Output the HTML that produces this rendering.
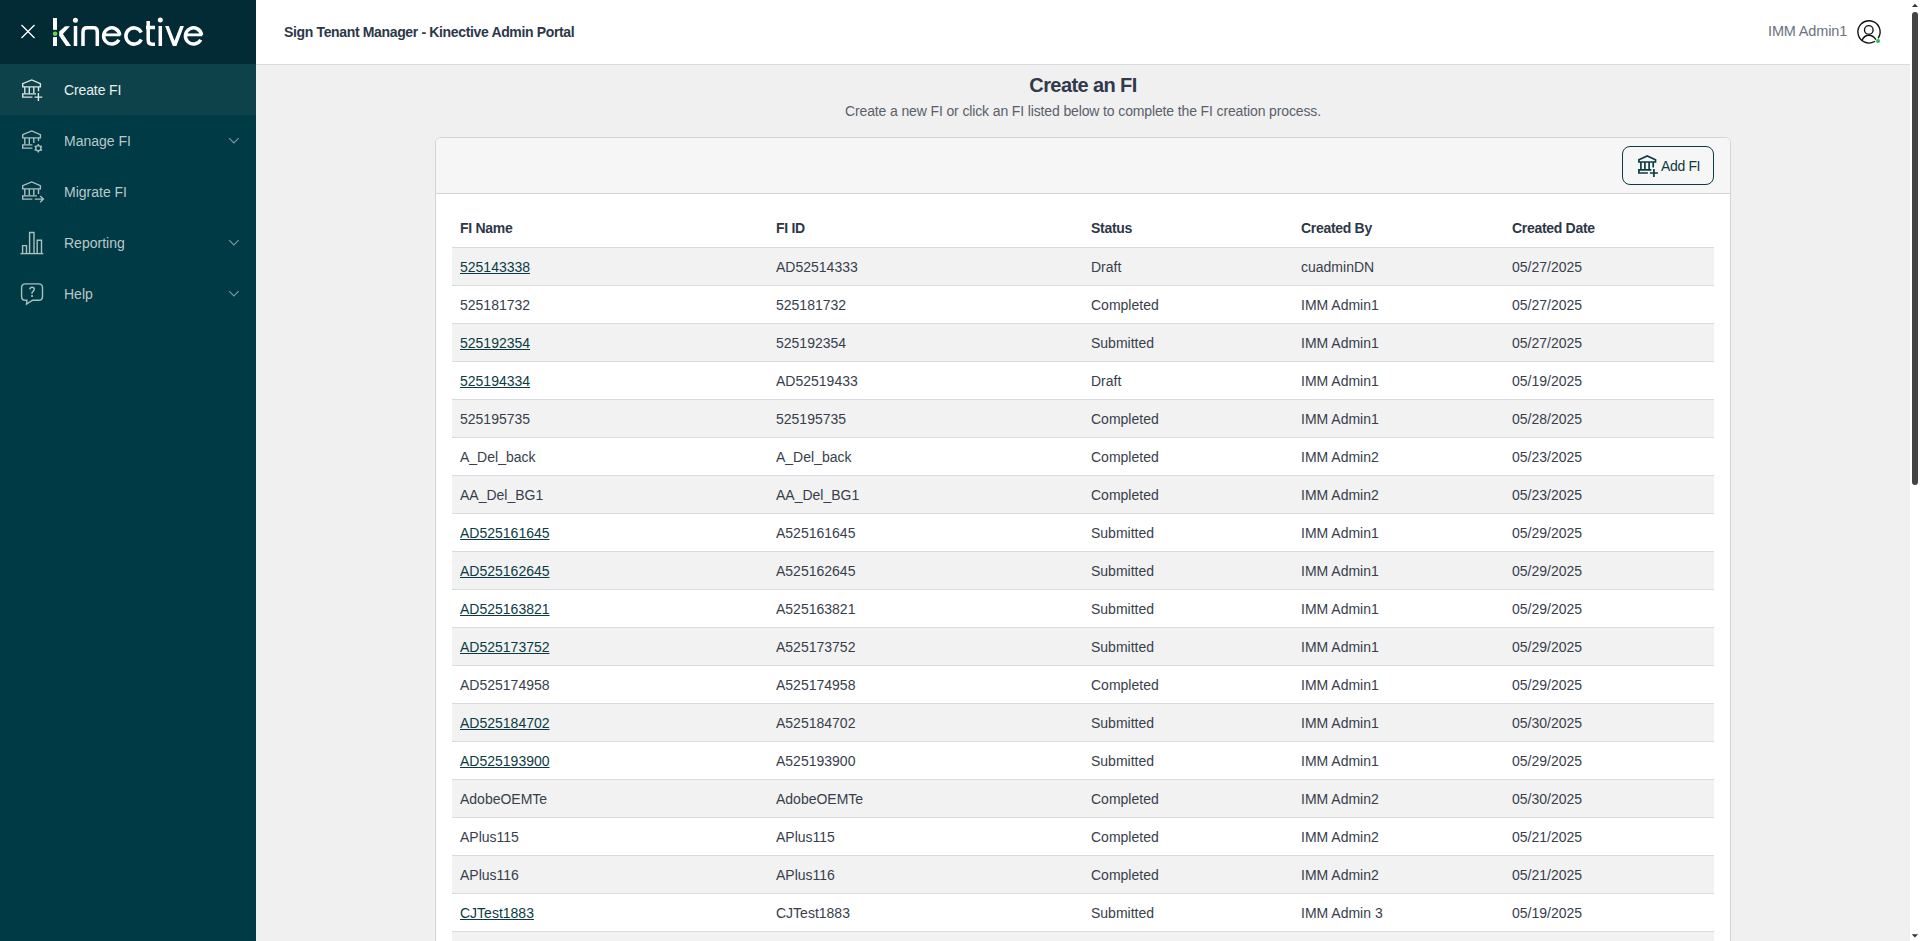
<!DOCTYPE html>
<html><head><meta charset="utf-8">
<style>
*{box-sizing:border-box}
html,body{margin:0;padding:0;width:1920px;height:941px;overflow:hidden;background:#f0f0f0;font-family:"Liberation Sans",sans-serif}
.sb{position:absolute;left:0;top:0;width:256px;height:941px;background:#003a44}
.sbtop{position:absolute;left:0;top:0;width:256px;height:64px;background:#022b36}
.item{position:absolute;left:0;width:256px;height:51px}
.item.act{background:#0e424a}
.item .t{position:absolute;left:64px;top:1px;line-height:51px;font-size:14px;color:#b9c9ca}
.item.act .t{color:#e9efef;letter-spacing:-0.12px}
.item svg.ic{position:absolute;left:15px;top:8px}
.item svg.chev{position:absolute;left:226px;top:20px}
.hdr{position:absolute;left:256px;top:0;width:1654px;height:65px;background:#fff;border-bottom:1px solid #d8dbe0}
.hdr .title{position:absolute;left:28px;top:0;line-height:64px;font-size:14px;font-weight:700;color:#2d3748;letter-spacing:-0.35px}
.hdr .user{position:absolute;left:1512px;top:-1px;line-height:64px;font-size:14.5px;letter-spacing:-0.15px;color:#6b7280}
.scr{position:absolute;left:1910px;top:0;width:10px;height:941px;background:#fff}
.thumb{position:absolute;left:2px;top:12px;width:6px;height:473px;border-radius:3px;background:#444}
h1{position:absolute;left:256px;width:1654px;top:72px;margin:0;text-align:center;font-size:20px;line-height:26px;font-weight:700;color:#303a4c;letter-spacing:-0.6px}
.sub{position:absolute;left:256px;width:1654px;top:102px;text-align:center;font-size:14px;line-height:18px;color:#5a606b;letter-spacing:-0.13px}
.card{position:absolute;left:435px;top:137px;width:1296px;height:900px;background:#fff;border:1px solid #d3d4d8;border-radius:6px;overflow:hidden}
.chd{position:absolute;left:0;top:0;width:100%;height:56px;background:#f6f6f6;border-bottom:1px solid #d3d4d8}
.btn{position:absolute;left:1186px;top:8px;width:92px;height:39px;border:1.5px solid #0b3b43;border-radius:8px;background:#f6f6f6}
.btn span{position:absolute;left:38px;top:1px;line-height:37px;font-size:14px;color:#0b3b43;letter-spacing:-0.35px}
.btn svg{position:absolute;left:12px;top:5px}
table{position:absolute;left:16px;top:56px;width:1262px;border-collapse:collapse;table-layout:fixed}
th{height:53px;text-align:left;padding:0 0 0 8px;font-size:14px;font-weight:700;color:#2d3748;letter-spacing:-0.3px;vertical-align:middle;padding-top:15px}
td{height:38px;padding:2px 0 0 8px;font-size:14px;color:#383e4c;border-top:1px solid #d9dbe0;vertical-align:middle}
tr.g td{background:#f2f2f2}
td a{color:#0b3b43;text-decoration:underline}
</style></head><body>
<div class="sb">
  <div class="sbtop">
    <svg width="256" height="64" style="position:absolute;left:0;top:0">
      <g stroke="#fff" stroke-width="1.3" fill="none"><path d="M21.5 25 L34.5 38 M34.5 25 L21.5 38"/></g>
      <g fill="#fff">
        <rect x="53" y="18" width="4" height="11.8"/>
        <rect x="53" y="37.1" width="4" height="8.9"/>
      </g>
      <circle cx="55.1" cy="33.7" r="2.3" fill="#6fd24f"/>
      <g stroke="#fff" stroke-width="3.5" fill="none" stroke-linejoin="miter">
        
        <path d="M75.5 26 V46"/>
        <path d="M83 46 V32 Q83 27.8 87 27.8 H93.5 Q97.3 27.8 97.3 32 V46"/>
        <path d="M119.77 34.87 A8.1 8.1 0 1 0 118.9 39.8"/><path d="M104.5 34.85 H120.5" stroke-width="2.8"/>
        <path d="M141.3 32.5 A8.1 8.1 0 1 0 141.3 39.5"/>
        <path d="M148.2 21 V40 Q148.2 44.2 152 44.2 H155 M146 27.6 H155"/>
        <path d="M160.3 26 V46"/>
        
        <path d="M201.57 34.87 A8.1 8.1 0 1 0 200.7 39.8"/><path d="M186.3 34.85 H202.3" stroke-width="2.8"/>
      </g>
      <circle cx="75.4" cy="20.3" r="2.5" fill="#fff"/>
      <path fill="#fff" d="M65.1 26.15 H69.96 L62.9 33.9 L71.07 45.9 H66.2 L59.2 35.8 V31.4 Z"/>
      <path fill="#fff" d="M165.1 26 H168.75 L174.5 40.8 L180.2 26 H183.9 L176.4 46 H172.8 Z"/>
      <circle cx="160.3" cy="20.1" r="2.5" fill="#fff"/>
    </svg>
  </div>
  <div class="item act" style="top:64px">
    <svg class="ic" width="30" height="34" viewBox="14.6 71.6 30 34"><g stroke="#dde4e4" stroke-width="1.4" fill="none">
      <path d="M22.3 86.5 V83.3 L31.3 79.5 L40 83.3 V86.5 Z"/>
      <path d="M24.4 86.5 V93.2 M28.9 86.5 V93.2 M33.4 86.5 V93.2 M38.1 86.5 V90.8"/>
      <path d="M35.6 93.5 H22.3 V96.7 H32"/>
      <path d="M34.2 96.7 H41.9 M38 92.6 V100.5"/>
    </g></svg>
    <span class="t">Create FI</span>
  </div>
  <div class="item" style="top:115px">
    <svg class="ic" width="30" height="34" viewBox="14.6 71.6 30 34"><g stroke="#a9bfc0" stroke-width="1.4" fill="none">
      <path d="M22.3 86.5 V83.3 L31.3 79.5 L40 83.3 V86.5 Z"/>
      <path d="M24.4 86.5 V93.2 M28.9 86.5 V93.2 M33.4 86.5 V91.5 M38.1 86.5 V89.5"/>
      <path d="M32 93.5 H22.3 V96.7 H32"/>
      <circle cx="37.9" cy="96.8" r="2.6"/>
      <path d="M37.9 92.5 V94 M37.9 99.6 V101.1 M34.2 94.6 L35.5 95.4 M40.3 98.2 L41.6 99 M34.2 99 L35.5 98.2 M40.3 95.4 L41.6 94.6"/>
    </g></svg>
    <span class="t">Manage FI</span>
    <svg class="chev" width="16" height="10" viewBox="226 135 16 10"><path d="M229.1 138.2 L233.9 143 L238.7 138.2" stroke="#7b9a9e" stroke-width="1.1" fill="none"/></svg>
  </div>
  <div class="item" style="top:166px">
    <svg class="ic" width="30" height="34" viewBox="14.6 71.6 30 34"><g stroke="#a9bfc0" stroke-width="1.4" fill="none">
      <path d="M22.3 86.5 V83.3 L31.3 79.5 L40 83.3 V86.5 Z"/>
      <path d="M24.4 86.5 V93.2 M28.9 86.5 V93.2 M33.4 86.5 V93.2 M38.1 86.5 V91.5"/>
      <path d="M36.5 93.5 H22.3 V96.7 H32"/>
      <path d="M34.3 96.7 H43 M39.8 93.5 L43 96.7 L39.8 99.9"/>
    </g></svg>
    <span class="t">Migrate FI</span>
  </div>
  <div class="item" style="top:217px">
    <svg class="ic" width="30" height="34" viewBox="15 72 30 34"><g stroke="#a9bfc0" stroke-width="1.4" fill="none">
      <path d="M20.5 100.6 H43.3"/>
      <path d="M22.6 100.6 V92.6 H26.5 V100.6"/>
      <path d="M29.6 100.6 V79.5 H34 V100.6"/>
      <path d="M37.2 100.6 V87.2 H41.5 V100.6"/>
    </g></svg>
    <span class="t">Reporting</span>
    <svg class="chev" width="16" height="10" viewBox="226 135 16 10"><path d="M229.1 138.2 L233.9 143 L238.7 138.2" stroke="#7b9a9e" stroke-width="1.1" fill="none"/></svg>
  </div>
  <div class="item" style="top:268px">
    <svg class="ic" width="30" height="34" viewBox="15 72 30 34"><g stroke="#a9bfc0" stroke-width="1.4" fill="none">
      <path d="M25.5 79.9 H38.7 Q42.5 79.9 42.5 83.7 V92.4 Q42.5 96.2 38.7 96.2 H32.7 L26.5 100.2 L26.9 96.2 H25.4 Q21.6 96.2 21.6 92.4 V83.7 Q21.6 79.9 25.5 79.9 Z"/>
      <path d="M29.9 85.4 Q30.1 83.3 32.1 83.3 Q34.2 83.3 34.2 85.3 Q34.2 86.6 33 87.4 Q32 88.1 32 89.2 V89.8" stroke-width="1.5"/>
    </g><rect x="31.1" y="91.1" width="1.9" height="1.8" fill="#a9bfc0"/></svg>
    <span class="t">Help</span>
    <svg class="chev" width="16" height="10" viewBox="226 135 16 10"><path d="M229.1 138.2 L233.9 143 L238.7 138.2" stroke="#7b9a9e" stroke-width="1.1" fill="none"/></svg>
  </div>
</div>
<div class="hdr">
  <div class="title">Sign Tenant Manager - Kinective Admin Portal</div>
  <div class="user">IMM Admin1</div>
  <svg width="34" height="34" style="position:absolute;left:1596px;top:15px" viewBox="1852 15 34 34">
    <g stroke="#111" stroke-width="1.35" fill="none" stroke-linecap="round">
      <path d="M1874.55 41.51 A11.1 11.1 0 1 1 1878.34 37.9"/>
      <circle cx="1868.8" cy="29.9" r="4.3"/>
      <path d="M1862 40.3 C1863.5 37 1866 35.2 1868.9 35.2 C1871.8 35.2 1874 36.8 1875.6 39.2"/>
    </g>
    <circle cx="1878" cy="41" r="2.05" fill="#2ebd59"/>
  </svg>
</div>
<h1>Create an FI</h1>
<div class="sub">Create a new FI or click an FI listed below to complete the FI creation process.</div>
<div class="card">
  <div class="chd">
    <div class="btn">
      <svg width="24" height="26" viewBox="1635.1 151.6 24 26"><g stroke="#0b3b43" stroke-width="1.7" fill="none">
        <path d="M1639 161.6 V159.3 L1647.3 155.5 L1655.6 159.3 V161.6 Z"/>
        <path d="M1641 161.6 V169 M1645 161.6 V169 M1649.2 161.6 V169 M1653.3 161.6 V167"/>
        <path d="M1651.5 169.5 H1639 V172.6 H1648"/>
        <path d="M1650 172.6 H1658 M1654 168.5 V176.5"/>
      </g></svg>
      <span>Add FI</span>
    </div>
  </div>
  <table>
    <colgroup><col style="width:316px"><col style="width:315px"><col style="width:210px"><col style="width:211px"><col style="width:210px"></colgroup>
    <thead><tr><th>FI Name</th><th>FI ID</th><th>Status</th><th>Created By</th><th>Created Date</th></tr></thead>
    <tbody>
<tr class="g"><td><a>525143338</a></td><td>AD52514333</td><td>Draft</td><td>cuadminDN</td><td>05/27/2025</td></tr>
<tr><td>525181732</td><td>525181732</td><td>Completed</td><td>IMM Admin1</td><td>05/27/2025</td></tr>
<tr class="g"><td><a>525192354</a></td><td>525192354</td><td>Submitted</td><td>IMM Admin1</td><td>05/27/2025</td></tr>
<tr><td><a>525194334</a></td><td>AD52519433</td><td>Draft</td><td>IMM Admin1</td><td>05/19/2025</td></tr>
<tr class="g"><td>525195735</td><td>525195735</td><td>Completed</td><td>IMM Admin1</td><td>05/28/2025</td></tr>
<tr><td>A_Del_back</td><td>A_Del_back</td><td>Completed</td><td>IMM Admin2</td><td>05/23/2025</td></tr>
<tr class="g"><td>AA_Del_BG1</td><td>AA_Del_BG1</td><td>Completed</td><td>IMM Admin2</td><td>05/23/2025</td></tr>
<tr><td><a>AD525161645</a></td><td>A525161645</td><td>Submitted</td><td>IMM Admin1</td><td>05/29/2025</td></tr>
<tr class="g"><td><a>AD525162645</a></td><td>A525162645</td><td>Submitted</td><td>IMM Admin1</td><td>05/29/2025</td></tr>
<tr><td><a>AD525163821</a></td><td>A525163821</td><td>Submitted</td><td>IMM Admin1</td><td>05/29/2025</td></tr>
<tr class="g"><td><a>AD525173752</a></td><td>A525173752</td><td>Submitted</td><td>IMM Admin1</td><td>05/29/2025</td></tr>
<tr><td>AD525174958</td><td>A525174958</td><td>Completed</td><td>IMM Admin1</td><td>05/29/2025</td></tr>
<tr class="g"><td><a>AD525184702</a></td><td>A525184702</td><td>Submitted</td><td>IMM Admin1</td><td>05/30/2025</td></tr>
<tr><td><a>AD525193900</a></td><td>A525193900</td><td>Submitted</td><td>IMM Admin1</td><td>05/29/2025</td></tr>
<tr class="g"><td>AdobeOEMTe</td><td>AdobeOEMTe</td><td>Completed</td><td>IMM Admin2</td><td>05/30/2025</td></tr>
<tr><td>APlus115</td><td>APlus115</td><td>Completed</td><td>IMM Admin2</td><td>05/21/2025</td></tr>
<tr class="g"><td>APlus116</td><td>APlus116</td><td>Completed</td><td>IMM Admin2</td><td>05/21/2025</td></tr>
<tr><td><a>CJTest1883</a></td><td>CJTest1883</td><td>Submitted</td><td>IMM Admin 3</td><td>05/19/2025</td></tr>
<tr class="g"><td>CJTest1884</td><td>CJTest1884</td><td>Submitted</td><td>IMM Admin 3</td><td>05/19/2025</td></tr>
    </tbody>
  </table>
</div>
<div class="scr">
  <svg width="10" height="941" style="position:absolute;left:0;top:0">
    <path d="M2 7 L5 3.8 L8 7 Z" fill="#333"/>
    <path d="M1.7 934.2 L4.9 937.5 L8.1 934.2 Z" fill="#333"/>
  </svg>
  <div class="thumb"></div>
</div>
</body></html>
